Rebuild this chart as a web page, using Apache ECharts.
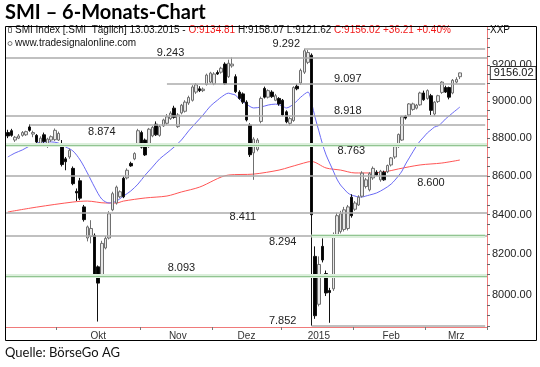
<!DOCTYPE html>
<html><head><meta charset="utf-8">
<script src="https://cdn.jsdelivr.net/npm/echarts@6/dist/echarts.min.js"></script>
<style>html,body{margin:0;padding:0;background:#fff}#c{width:540px;height:367px}</style>
</head><body><div id="c"></div><script>
// ---------- data ----------
const tradingDays = {
  '2014-09': [11,12,15,16,17,18,19,22,23,24,25,26,29,30],
  '2014-10': [1,2,3,6,7,8,9,10,13,14,15,16,17,20,21,22,23,24,27,28,29,30,31],
  '2014-11': [3,4,5,6,7,10,11,12,13,14,17,18,19,20,21,24,25,26,27,28],
  '2014-12': [1,2,3,4,5,8,9,10,11,12,15,16,17,18,19,22,23,29,30],
  '2015-01': [5,6,7,8,9,12,13,14,15,16,19,20,21,22,23,26,27,28,29,30],
  '2015-02': [2,3,4,5,6,9,10,11,12,13,16,17,18,19,20,23,24,25,26,27],
  '2015-03': [2,3,4,5,6,9,10,11,12,13]
};
const futureDays = { '2015-03': [16,17,18,19,20,23,24] };

const opens = [8830,8840,8790,8800,8815,8818,8860,8822,8815,8772,8818,8760,8790,8792,8790,8763,8690,8700,8640,8520,
  8575,8440,8282,8290,8295,8138,8098,8232,8282,8425,8460,8492,8588,8590,8666,8690,8772,8830,8790,8755,
  8812,8875,8815,8866,8880,8905,8962,8862,8936,8945,8990,9005,9050,9068,9058,9092,9105,9095,9158,9160,
  9205,9135,9195,9135,9050,9040,8995,8870,8722,8740,8890,9070,9022,9050,9005,9015,9005,8942,8880,8895,
  9082,9100,9160,9215,9255,8190,7955,8240,8105,8022,8030,8300,8315,8325,8330,8490,8428,8450,8495,8545,
  8528,8590,8620,8580,8620,8622,8658,8700,8755,8790,8918,8925,8955,8962,8980,9045,9015,9030,8930,8998,
  9048,9075,9075,9045,9105,9134.81];
const highs = [8845,8850,8812,8822,8838,8840,8874,8840,8822,8810,8830,8802,8815,8852,8835,8790,8700,8745,8650,8535,
  8590,8450,8345,8372,8305,8145,8268,8292,8418,8518,8550,8525,8598,8640,8675,8725,8850,8840,8798,8855,
  8865,8890,8872,8905,8930,8945,8975,8935,8985,9005,9030,9088,9100,9082,9075,9152,9162,9160,9170,9190,
  9215,9230,9243,9148,9060,9048,9005,8880,8805,8800,9025,9080,9065,9060,9040,9022,9012,8950,8915,9082,
  9095,9180,9292,9285,9265,8240,8190,8280,8120,8035,8310,8410,8420,8440,8450,8505,8470,8500,8625,8590,
  8620,8650,8630,8632,8628,8660,8700,8760,8825,8920,8925,8990,8992,8985,9052,9058,9065,9040,9000,9035,
  9110,9085,9080,9122,9132,9158.07];
const lows = [8800,8808,8780,8795,8808,8812,8835,8805,8772,8762,8775,8748,8780,8785,8785,8650,8630,8690,8552,8470,
  8475,8365,8265,8255,8085,7872,8085,8225,8275,8418,8452,8485,8485,8582,8648,8683,8765,8745,8705,8748,
  8805,8812,8808,8860,8872,8898,8905,8855,8928,8938,8980,8998,9040,9050,9050,9086,9098,9088,9145,9152,
  9090,9128,9185,9045,9008,8985,8890,8700,8580,8730,8880,9015,9015,9018,9000,8975,8918,8880,8868,8888,
  9060,9090,9150,9205,7852,7885,7945,8160,7995,7866,8020,8290,8305,8315,8320,8385,8420,8445,8488,8535,
  8520,8580,8600,8570,8575,8615,8650,8690,8748,8785,8900,8918,8948,8955,8975,9002,9008,8925,8920,8990,
  9040,9045,9010,9038,9098,9121.62];
const closes = [8812,8815,8805,8812,8830,8835,8842,8830,8780,8800,8782,8795,8808,8842,8825,8660,8675,8735,8560,8512,
  8485,8375,8338,8330,8092,8058,8255,8280,8405,8508,8542,8518,8492,8630,8653,8718,8840,8752,8711,8848,
  8858,8818,8862,8898,8915,8935,8912,8925,8978,8995,9020,9078,9090,9058,9066,9144,9155,9150,9150,9182,
  9095,9210,9205,9052,9015,8995,8898,8712,8795,8790,9015,9022,9058,9025,9030,8985,8925,8888,8905,9075,
  9068,9170,9280,9270,8400,7900,8150,8172,8010,8012,8295,8395,8405,8425,8440,8395,8460,8490,8615,8580,
  8612,8640,8605,8625,8580,8655,8695,8755,8820,8915,8908,8985,8985,8978,9045,9008,9058,8950,8995,9030,
  9105,9050,9022,9115,9119.81,9156.02];

// moving averages: [day index, value]
const maBlue = [[0,8700],[2,8721],[4,8737],[6,8758],[8,8774],[10,8780],[12,8780],[14,8774],[16,8753],[18,8732],
  [20,8684],[22,8616],[24,8542],[26,8480],[28,8460],[30,8470],[32,8496],[34,8522],[36,8558],[38,8605],
  [40,8647],[42,8690],[44,8721],[46,8753],[48,8790],[50,8839],[52,8882],[54,8925],[56,8973],[58,9006],
  [59,9022],[61,9044],[62,9039],[63,9033],[64,9011],[66,8984],[68,8963],[70,8968],[72,8979],[74,8984],
  [76,8973],[77,8963],[79,8984],[81,9022],[83,9050],[84,8990],[85,8909],[86,8839],[87,8769],[88,8711],
  [89,8668],[90,8626],[91,8584],[92,8553],[93,8532],[94,8512],[95,8501],[96,8496],[97,8491],[98,8491],
  [99,8496],[100,8501],[102,8512],[104,8532],[106,8558],[108,8600],[109,8626],[110,8663],[111,8695],[112,8727],
  [113,8758],[114,8785],[115,8806],[116,8828],[117,8844],[118,8860],[119,8866],[120,8882],[121,8903],[122,8919],
  [123,8936],[124,8952],[125,8968]];
const maRed = [[0,8414],[8,8439],[18,8465],[22,8470],[27,8460],[30,8460],[32,8470],[38,8486],[44,8496],[48,8517],
  [53,8542],[61,8605],[68,8610],[75,8631],[78,8647],[83,8674],[84,8676],[88,8642],[92,8631],[96,8616],
  [100,8616],[104,8621],[108,8637],[114,8658],[120,8668],[125,8684]];

// support / resistance levels
const grayLevels = [9292, 9243, 9097, 8918, 8874, 8600, 8411, 8294, 7852];
const grayStartIdx = [82, 0, 44, 0, 6, 0, 0, 0, 84];
const greenLevels = [8763, 8294, 8093];
const greenStartIdx = [0, 84, 0];
const levelLabelValues = [9292, 9243, 9097, 8918, 8874, 8763, 8600, 8411, 8294, 8093, 7852];

const yTickLabels = [8000, 8200, 8400, 8600, 8800, 9000, 9200];
const monthNames = ['Jan','Feb','Mrz','Apr','Mai','Jun','Jul','Aug','Sep','Okt','Nov','Dez'];

// ---------- build ----------
const pad = d => (d < 10 ? '0' : '') + d;
const categories = [];
Object.keys(tradingDays).forEach(m => tradingDays[m].forEach(d => categories.push(m + '-' + pad(d))));
const nData = categories.length;
Object.keys(futureDays).forEach(m => futureDays[m].forEach(d => categories.push(m + '-' + pad(d))));
const N = categories.length;

const monthFirst = {}, monthLast = {};
categories.forEach((c, i) => { const k = c.slice(0, 7); if (!(k in monthFirst)) monthFirst[k] = i; monthLast[k] = i; });
const monthStartIdx = Object.values(monthFirst).filter(i => i > 0);
const monthLabelIdx = Object.keys(monthFirst).filter(k => monthFirst[k] > 0)
  .map(k => Math.round((monthFirst[k] + monthLast[k]) / 2));

const candleData = opens.map((o, i) => [o, closes[i], lows[i], highs[i]]);

function levelLines(vals, starts) {
  return vals.map((v, k) => starts[k] === 0 ? { yAxis: v }
    : [{ coord: [starts[k], v] }, { coord: [N - 1, v] }]);
}
// label placement (day index, vertical offset in px)
const labelPlace = { 9292: [77, -5], 9243: [45, -4], 9097: [94, -4.5], 8918: [94, -5.5], 8874: [26, 8],
  8763: [95, 6], 8600: [117, 7], 8411: [65, 4.5], 8294: [76, 6], 8093: [48, -8], 7852: [76, -5] };
const levelLabelPoints = levelLabelValues.map(v => ({
  coord: [labelPlace[v][0], v], value: v,
  label: { offset: [0, labelPlace[v][1]] }
}));

const lastO = opens[nData - 1], lastH = highs[nData - 1], lastL = lows[nData - 1], lastC = closes[nData - 1];
const prevC = closes[nData - 2];
const chg = lastC - prevC, pct = chg / prevC * 100;
const lastDate = categories[nData - 1].split('-').reverse().join('.');
const sgn = x => (x >= 0 ? '+' : '') + x.toFixed(2);

const FF = '"Liberation Sans", Arial, sans-serif';
const chart = echarts.init(document.getElementById('c'), null, { renderer: 'canvas' });
chart.setOption({
  animation: false,
  backgroundColor: '#fff',
  grid: { left: 6, right: 53, top: 27, bottom: 40, containLabel: false },
  xAxis: {
    type: 'category', data: categories, boundaryGap: true,
    axisLine: { show: true, lineStyle: { color: '#f07a7a', width: 1 } },
    axisTick: { show: true, interval: i => monthStartIdx.includes(i), length: 3, lineStyle: { color: '#777' } },
    axisLabel: {
      interval: i => monthLabelIdx.includes(i),
      formatter: v => { const m = +v.slice(5, 7); return m === 1 ? v.slice(0, 4) : monthNames[m - 1]; },
      fontSize: 10, color: '#333', margin: 4, fontFamily: FF
    },
    splitLine: { show: false }
  },
  yAxis: {
    type: 'log', logBase: 10, min: 7846, max: 9415, position: 'right',
    axisLine: { show: true, lineStyle: { color: '#f07a7a', width: 1 } },
    axisTick: { show: true, customValues: (() => { const t = []; for (let v = 7850; v <= 9400; v += 50) t.push(v); return t; })(),
      length: 3, lineStyle: { color: '#666' } },
    axisLabel: { customValues: yTickLabels, formatter: v => (Math.round(v * 100) / 100).toFixed(2),
      fontSize: 11, color: '#222', margin: 5, fontFamily: FF },
    splitLine: { show: false }
  },
  series: [
    { name: 'gray levels', type: 'line', data: [], z: 1, silent: true,
      markLine: { silent: true, symbol: ['none', 'none'], label: { show: false },
        lineStyle: { type: 'solid', color: '#ababab', width: 1.5 },
        emphasis: { disabled: true }, data: levelLines(grayLevels, grayStartIdx) } },
    { name: 'green band', type: 'line', data: [], z: 1, silent: true,
      markLine: { silent: true, symbol: ['none', 'none'], label: { show: false },
        lineStyle: { type: 'solid', color: '#dcefdc', width: 4 },
        emphasis: { disabled: true }, data: levelLines(greenLevels, greenStartIdx) } },
    { name: 'green line', type: 'line', data: [], z: 1, silent: true,
      markLine: { silent: true, symbol: ['none', 'none'], label: { show: false },
        lineStyle: { type: 'solid', color: '#92c492', width: 1 },
        emphasis: { disabled: true }, data: levelLines(greenLevels, greenStartIdx) },
      markPoint: { silent: true, symbol: 'circle', symbolSize: 0,
        label: { show: true, position: 'inside', formatter: p => (p.value / 1000).toFixed(3),
          fontSize: 11, color: '#222', fontFamily: FF },
        data: levelLabelPoints } },
    { name: 'MA lang', type: 'line', data: maRed, z: 2, smooth: 0.3, showSymbol: false, silent: true,
      lineStyle: { color: '#f55', width: 1 } },
    { name: 'MA kurz', type: 'line', data: maBlue, z: 2, smooth: 0.3, showSymbol: false, silent: true,
      lineStyle: { color: '#6a6af5', width: 1 } },
    { name: 'SMI', type: 'candlestick', data: candleData, z: 3, barWidth: 3, silent: true,
      itemStyle: { color: '#e8e8e8', color0: '#000', borderColor: '#707070', borderColor0: '#111', borderWidth: 1 },
      markPoint: { silent: true, symbol: 'circle', symbolSize: 0,
        label: { show: true, position: 'inside', offset: [28, 0], formatter: p => p.value.toFixed(2),
          fontSize: 11, color: '#111', fontFamily: FF, backgroundColor: '#fff',
          borderColor: '#333', borderWidth: 1, padding: [1, 2, 0, 3] },
        data: [{ coord: [N - 1, lastC], value: lastC }] } }
  ],
  graphic: [
    { type: 'text', x: 5, y: 3, style: { text: 'SMI – 6-Monats-Chart', font: 'bold 20px Lato, sans-serif', fill: '#000' } },
    { type: 'text', x: 5, y: 346, style: { text: 'Quelle: BörseGo AG', font: '13px Lato, sans-serif', fill: '#111' } },
    { type: 'rect', shape: { x: 5.5, y: 26.5, width: 531, height: 314 }, style: { fill: 'none', stroke: '#000', lineWidth: 1 }, z: 10 },
    { type: 'rect', shape: { x: 8.5, y: 27.5, width: 3, height: 5 }, style: { fill: 'none', stroke: '#777', lineWidth: 1 } },
    { type: 'circle', shape: { cx: 10, cy: 43.5, r: 2 }, style: { fill: 'none', stroke: '#777', lineWidth: 1 } },
    { type: 'text', x: 15, y: 30.5, style: {
        text: '{a|SMI Index [.SMI  Täglich] ' + lastDate + ' - }{r|O:' + lastO.toFixed(2) + '}{a| H:' + lastH.toFixed(2) +
              ' L:' + lastL.toFixed(2) + ' }{r|C:' + lastC.toFixed(2) + ' ' + sgn(chg) + ' ' + sgn(pct) + '%}',
        fontSize: 10, fontFamily: FF, verticalAlign: 'middle',
        rich: { a: { fill: '#111', fontSize: 10, fontFamily: FF }, r: { fill: '#f01818', fontSize: 10, fontFamily: FF } } } },
    { type: 'text', x: 15, y: 43.5, style: { text: 'www.tradesignalonline.com', fontSize: 10, fontFamily: FF, fill: '#111', verticalAlign: 'middle' } },
    { type: 'text', x: 490, y: 30.5, style: { text: 'XXP', fontSize: 10, fontFamily: FF, fill: '#111', verticalAlign: 'middle' } }
  ]
});
</script></body></html>
